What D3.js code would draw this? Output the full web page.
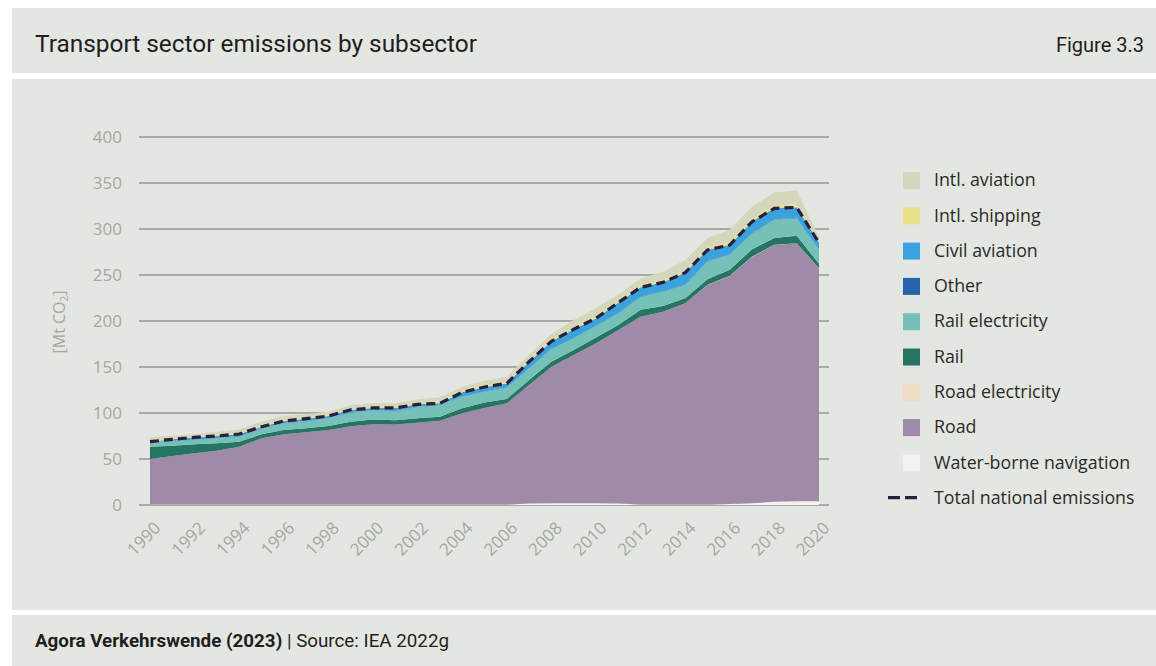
<!DOCTYPE html>
<html>
<head>
<meta charset="utf-8">
<script src="https://cdn.jsdelivr.net/npm/d3@7"></script>
<style>
  html, body { margin: 0; padding: 0; background: #ffffff; }
  svg { display: block; }
</style>
</head>
<body>
<svg id="chart" width="1156" height="666"></svg>
<script>
const years = d3.range(1990, 2021);
const waterborne = [0.5,0.5,0.5,0.5,0.5,0.5,0.5,0.5,0.5,0.5,0.5,0.5,0.5,0.5,0.5,0.5,0.5,1.5,2,2,2,1.5,0.5,0.5,0.5,0.5,1,2,3.5,4,4];
const road = [49.5,52.8,55.7,58.5,62.9,72,76.3,78.5,81,85,87.2,87,89,91.2,99.1,105,110,128.9,148.4,161,173.7,188.7,204.2,209.6,218.7,238.6,247.9,267.9,279.1,280.4,253.2];
const roadElectricity = [0,0,0,0,0,0,0,0,0,0,0,0,0,0,0,0,0,0,0,0,0,0,0,0,0,0.2,0.2,0.2,0.2,0.2,0.2];
const rail = [13.4,11.2,9.7,8,5.4,4.3,4.7,4.3,4.4,5.1,5.1,4.5,4.7,4.3,5.5,6,4.7,5.5,5.4,5.5,6.5,5.5,7.5,6.2,5.4,6.2,6.5,8,7.3,8,4.7];
const railElectricity = [4.6,5.1,4.7,5.5,5.5,6.5,7.3,7.7,8.3,9.9,9.9,10,12.3,12.7,12.6,11.7,12.3,12.7,13.4,12.7,12.4,12.6,14,15.6,14.5,19.2,16.3,17.4,19.9,19.2,15.3];
const other = [0.3,0.3,0.3,0.3,0.3,0.3,0.3,0.3,0.3,0.3,0.3,0.3,0.3,0.3,0.3,0.3,0.3,0.3,0.3,0.3,0.3,0.3,0.3,0.3,0.3,0.3,0.3,0.3,0.3,0.3,0.3];
const civilAviation = [0.5,1.5,2.7,2.2,2.6,1.5,2.2,2.5,2.2,2.7,2.5,3.2,2.6,1.5,4.5,4.8,4.4,6.9,8.5,9.5,8.1,11.4,10.1,9.8,13.1,12.4,10.6,12.4,12.4,11.6,7.5];
const intlShipping = [1.5,1.5,1.5,1.5,1.5,1.5,1.5,1.5,1.5,1.5,2,2,2,2,2,2,2,2.5,2.5,2.5,2.5,2.5,2.5,2.5,2.5,3,3,3,3,3,2.5];
const intlAviation = [3.3,2.5,2.1,3.2,3.5,4,3.9,3.3,3.2,3.3,3.3,3,3.5,4.5,4.1,4.8,5.3,5,5.5,7.5,8.5,6.5,7,9,11.3,9.7,13.3,13.3,14,15.2,4];
const totalNational = [68.8,71.4,73.6,75,77.2,85.1,91.3,93.8,96.7,103.5,105.5,105.5,109.4,110.5,122.5,128.3,132.2,155.8,178,191,203,220,236.6,242,252.5,277.2,282.6,308,322.5,323.5,285];
const yTicks = [0,50,100,150,200,250,300,350,400];
const xTickYears = [1990,1992,1994,1996,1998,2000,2002,2004,2006,2008,2010,2012,2014,2016,2018,2020];

const seriesDefs = [
  {key: "water", label: "Water-borne navigation", values: waterborne, color: "#f2f2ef"},
  {key: "road", label: "Road", values: road, color: "#a08aa9"},
  {key: "roadEl", label: "Road electricity", values: roadElectricity, color: "#f3dcc6"},
  {key: "rail", label: "Rail", values: rail, color: "#257562"},
  {key: "railEl", label: "Rail electricity", values: railElectricity, color: "#76c1b7"},
  {key: "other", label: "Other", values: other, color: "#2563ad"},
  {key: "civil", label: "Civil aviation", values: civilAviation, color: "#3ca2dd"},
  {key: "ship", label: "Intl. shipping", values: intlShipping, color: "#ede08b"},
  {key: "intlAv", label: "Intl. aviation", values: intlAviation, color: "#d5d7bd"}
];

const table = years.map((y, i) => {
  const row = {year: y};
  seriesDefs.forEach(s => row[s.key] = s.values[i]);
  return row;
});

const svg = d3.select("#chart");
const panelColor = "#e4e6e1";
const FONT = "Roboto, sans-serif";
const FONT2 = "'Open Sans', Roboto, sans-serif";

// panels
svg.append("rect").attr("x", 12).attr("y", 8).attr("width", 1144).attr("height", 65).attr("fill", panelColor);
svg.append("rect").attr("x", 12).attr("y", 79).attr("width", 1144).attr("height", 531).attr("fill", panelColor);
svg.append("rect").attr("x", 12).attr("y", 615).attr("width", 1144).attr("height", 51).attr("fill", panelColor);

svg.append("text").attr("x", 35).attr("y", 52).attr("font-family", FONT).attr("font-size", 24)
  .attr("fill", "#1e1e1e").attr("textLength", 442).attr("lengthAdjust", "spacingAndGlyphs")
  .text("Transport sector emissions by subsector");
svg.append("text").attr("x", 1144).attr("y", 52).attr("text-anchor", "end").attr("font-family", FONT)
  .attr("font-size", 20).attr("fill", "#1e1e1e")
  .text("Figure 3.3");

const foot = svg.append("text").attr("x", 35).attr("y", 647).attr("font-family", FONT).attr("font-size", 18.5).attr("fill", "#1e1e1e")
  .attr("textLength", 414).attr("lengthAdjust", "spacingAndGlyphs");
foot.append("tspan").attr("font-weight", "bold").text("Agora Verkehrswende (2023)");
foot.append("tspan").text(" | Source: IEA 2022g");

const x = d3.scaleLinear().domain([1990, 2020]).range([150, 819]);
const y = d3.scaleLinear().domain([0, 400]).range([505, 137]);

// grid
const grid = svg.append("g");
grid.selectAll("line").data(yTicks).join("line")
  .attr("x1", 139).attr("x2", 829)
  .attr("y1", d => y(d)).attr("y2", d => y(d))
  .attr("stroke", "#a9aaa8").attr("stroke-width", 2.2);

// y axis labels
const yAxis = svg.append("g").attr("transform", "translate(139,0)")
  .call(d3.axisLeft(y).tickValues(yTicks).tickSize(0).tickPadding(17));
yAxis.select(".domain").remove();
yAxis.selectAll("text").attr("font-family", FONT2).attr("font-size", 17).attr("fill", "#a5a7a4");

svg.append("text").attr("transform", "translate(65,322) rotate(-90)").attr("text-anchor", "middle")
  .attr("font-family", FONT2).attr("font-size", 16).attr("fill", "#a5a7a4")
  .html('[Mt CO<tspan font-size="10" dy="3">2</tspan><tspan dy="-3">]</tspan>');

// areas
const stack = d3.stack().keys(seriesDefs.map(s => s.key));
const stacked = stack(table);
const area = d3.area().x(d => x(d.data.year)).y0(d => y(d[0])).y1(d => y(d[1]));
svg.append("g").selectAll("path").data(stacked).join("path")
  .attr("d", area)
  .attr("fill", (d, i) => seriesDefs[i].color);

// total line
const line = d3.line().x((d, i) => x(years[i])).y(d => y(d));
svg.append("path").datum(totalNational).attr("d", line)
  .attr("fill", "none").attr("stroke", "#2b1f3f").attr("stroke-width", 3.2)
  .attr("stroke-dasharray", "9,5");

// x axis labels
const xAxis = svg.append("g").attr("transform", "translate(0,505)")
  .call(d3.axisBottom(x).tickValues(xTickYears).tickFormat(d3.format("d")).tickSize(0));
xAxis.select(".domain").remove();
xAxis.selectAll("text")
  .attr("font-family", FONT2).attr("font-size", 17).attr("fill", "#a5a7a4")
  .attr("text-anchor", "end")
  .attr("transform", "translate(7,20) rotate(-45)")
  .attr("dy", "0.35em").attr("x", 0).attr("y", 0);

// legend
const legendItems = seriesDefs.slice().reverse();
const lg = svg.append("g");
legendItems.forEach((s, i) => {
  const cy = 180 + i * 35.3;
  lg.append("rect").attr("x", 903).attr("y", cy - 8).attr("width", 17).attr("height", 17).attr("fill", s.color);
  lg.append("text").attr("x", 934).attr("y", cy).attr("dy", "0.35em").attr("font-family", FONT2)
    .attr("font-size", 17.8).attr("fill", "#2a2a2a").text(s.label);
});
const ly = 180 + legendItems.length * 35.3;
lg.append("line").attr("x1", 888).attr("x2", 920).attr("y1", ly).attr("y2", ly)
  .attr("stroke", "#2b1f3f").attr("stroke-width", 3.2).attr("stroke-dasharray", "12,5");
lg.append("text").attr("x", 934).attr("y", ly).attr("dy", "0.35em").attr("font-family", FONT2)
  .attr("font-size", 17.8).attr("fill", "#2a2a2a").text("Total national emissions");
</script>
</body>
</html>
